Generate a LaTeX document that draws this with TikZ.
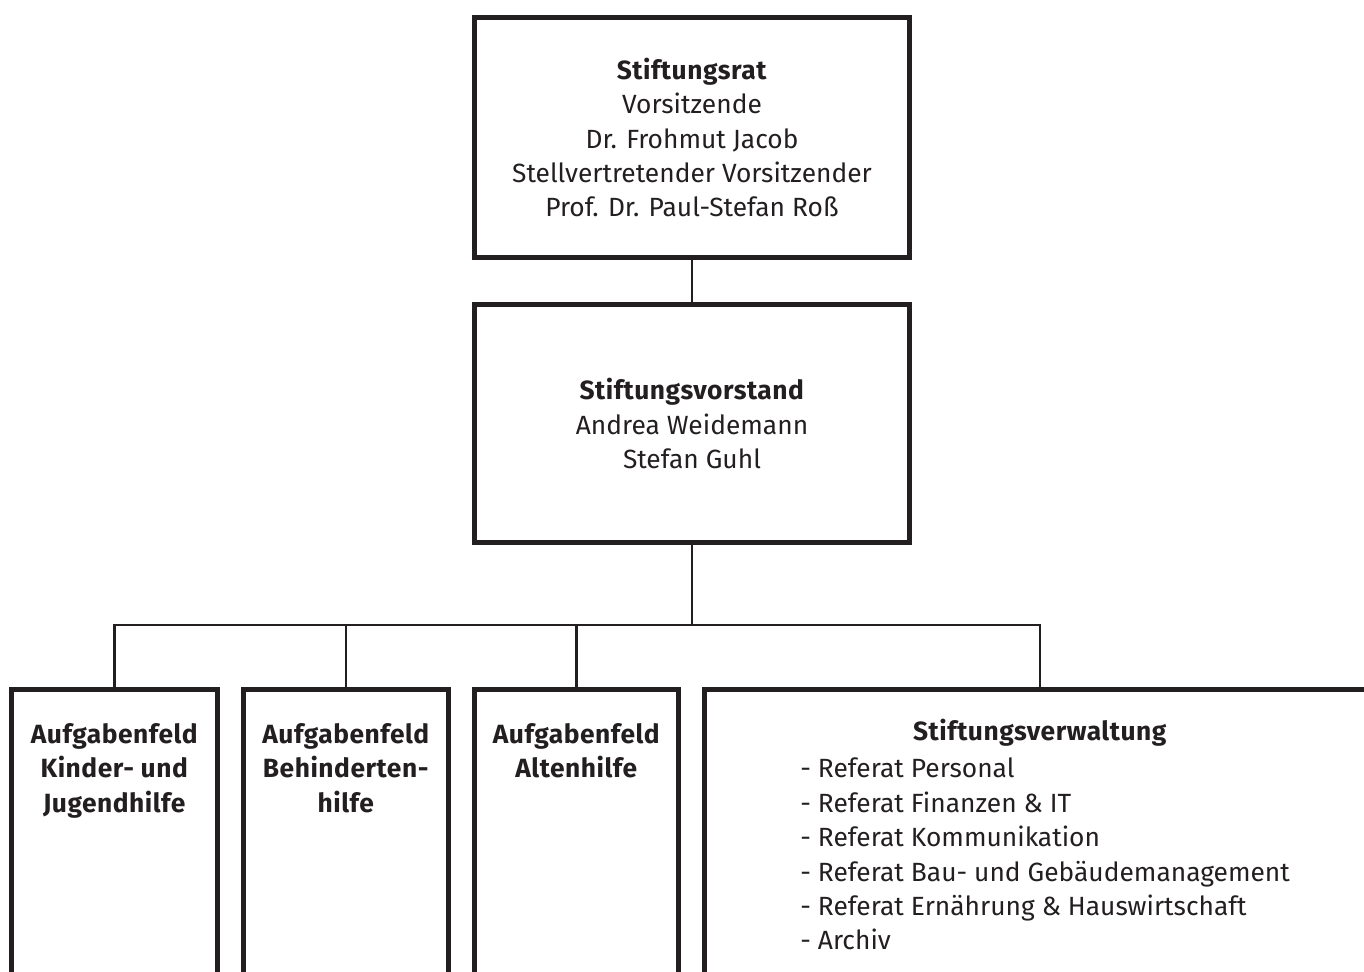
\documentclass[tikz,border=0pt]{standalone}
\usepackage{fontspec}
\setmainfont{Fira Sans}[BoldFeatures={LetterSpace=2}]
\usetikzlibrary{positioning}
\definecolor{ink}{RGB}{35,31,32}

\begin{document}
\begin{tikzpicture}[x=0.02cm,y=-0.02cm]
    \tikzstyle{every node}=[text=ink,align=center,font=\fontsize{15}{19.6}\selectfont];
    \tikzstyle{orgbox}=[draw=ink,line width=0.1cm,shape=rectangle,inner sep=0pt];
    \tikzstyle{link}=[draw=ink,line width=0.048cm];
    \clip (0,0) rectangle (1364,972);

    \node at (692, 137.5) (rat) [orgbox,minimum width=8.7cm,minimum height=4.8cm]
      {\textbf{Stiftungsrat}\\Vorsitzende\\Dr. Frohmut Jacob\\Stellvertretender Vorsitzender\\Prof. Dr. Paul-Stefan Roß};
    \node at (692, 423.5) (vorstand) [orgbox,minimum width=8.7cm,minimum height=4.76cm]
      {\textbf{Stiftungsvorstand}\\Andrea Weidemann\\Stefan Guhl};
    \node at (114.5, 889.5) (kinder) [orgbox,minimum width=4.12cm,minimum height=8cm] {};
    \node at (346, 889.5)   (behind) [orgbox,minimum width=4.1cm,minimum height=8cm] {};
    \node at (576.5, 889.5) (alten)  [orgbox,minimum width=4.08cm,minimum height=8cm] {};
    \node at (1040, 889.5)  (verw)   [orgbox,minimum width=13.42cm,minimum height=8cm] {};
    \coordinate (bus) at (692, 625);
    \coordinate (listleft) at (800, 750);

    % texts of the lower boxes
    \node [below=0.6cm of kinder.north] (kindertxt) {\textbf{Aufgabenfeld}\\\textbf{Kinder- und}\\\textbf{Jugendhilfe}};
    \node [below=0.6cm of behind.north] (behindtxt) {\textbf{Aufgabenfeld}\\\textbf{Behinderten-}\\\textbf{hilfe}};
    \node [below=0.6cm of alten.north]  (altentxt)  {\textbf{Aufgabenfeld}\\\textbf{Altenhilfe}};
    \node [below=0.52cm of verw.north]  (verwtitle) {\textbf{Stiftungsverwaltung}};
    \node at (verwtitle.south -| listleft) [anchor=north west,align=left,inner sep=0pt,yshift=-0.1cm] (verwlist)
      {- Referat Personal\\- Referat Finanzen \& IT\\- Referat Kommunikation\\- Referat Bau- und Gebäudemanagement\\- Referat Ernährung \& Hauswirtschaft\\- Archiv};

    \draw[link] (rat) to (vorstand);
    \draw[link] (vorstand) to (bus);
    \draw[link] (kinder.north) |- (bus) -| (verw.north);
    \draw[link] (behind.north) to (behind.north |- bus);
    \draw[link] (alten.north) to (alten.north |- bus);
\end{tikzpicture}
\end{document}
